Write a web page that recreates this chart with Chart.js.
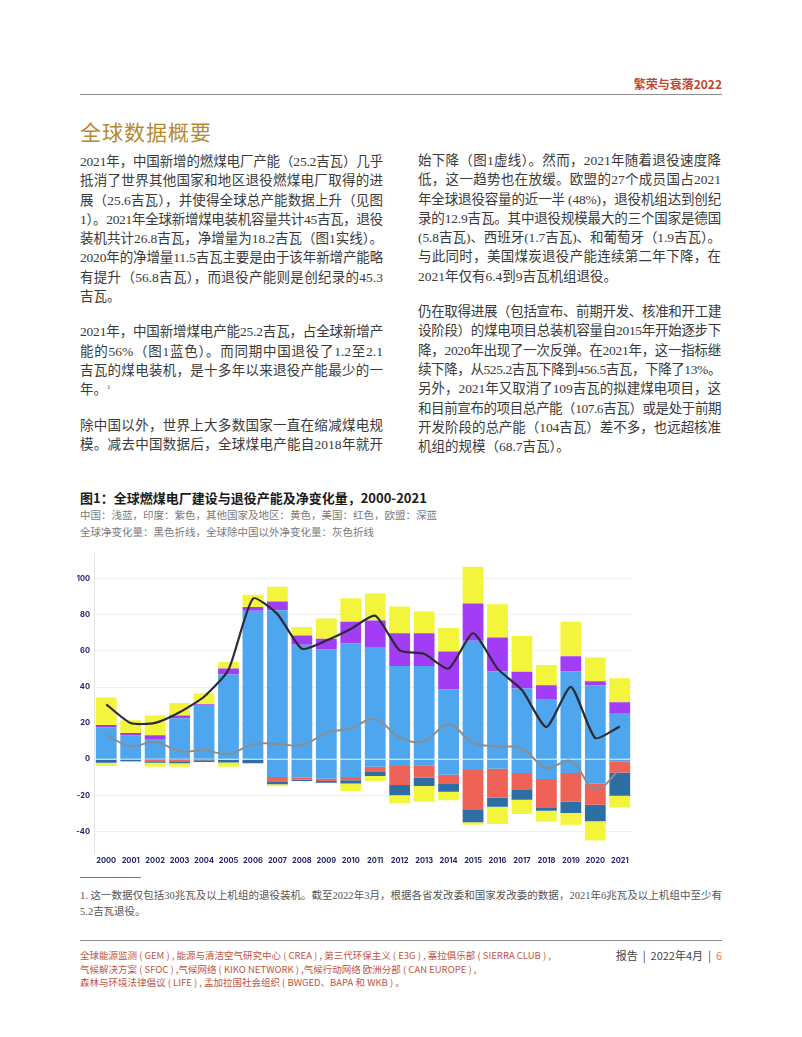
<!DOCTYPE html>
<html lang="zh-CN">
<head>
<meta charset="utf-8">
<title>繁荣与衰落2022 · 全球数据概要</title>
<script src="https://cdn.jsdelivr.net/npm/chart.js@4.4.1/dist/chart.umd.min.js"></script>
<style>
  html, body { margin: 0; padding: 0; background: #fff; }
  #page {
    position: relative; width: 802px; height: 1037px; overflow: hidden;
    font-family: "Liberation Serif", "Noto Sans CJK SC", serif; color: #3a3a3a;
  }
  .abs { position: absolute; }
  .rule { left: 80px; width: 642px; height: 0; border-top: 1.5px solid #8e8e8e; }
  #hdr { right: 80px; top: 77px; font: bold 12px/14px "Noto Sans CJK SC", sans-serif; color: #c2472f; }
  #title { left: 80px; top: 118px; font: 21px/26px "Noto Sans CJK SC", sans-serif; letter-spacing: 1px; color: #b5892f; }
  .col { width: 303px; font-size: 13.5px; line-height: 19.3px; }
  .col p { margin: 0 0 16px 0; }
  .ln { display: block; text-align: justify; text-align-last: justify; }
  .ln.last { text-align-last: left; }
  sup { font-size: 7px; line-height: 0; vertical-align: 5px; }
  #figTitle { left: 80px; top: 490px; font: bold 13px/16px "Noto Sans CJK SC", sans-serif; color: #1a1a1a; }
  .figSub { left: 80px; font-size: 10.5px; line-height: 16px; color: #7a7a7a; }
  #chartBox { left: 60px; top: 545px; width: 590px; height: 325px; }
  #fnote { left: 80px; top: 888px; width: 642px; font-size: 10.5px; line-height: 15.5px; color: #555; }
  #foot { left: 80px; top: 949px; font: 9.5px/13.7px "Noto Sans CJK SC", sans-serif; color: #c0553f; white-space: pre; }
  #footR { right: 80px; top: 948px; font: 11px/15px "Noto Sans CJK SC", sans-serif; color: #444; }
</style>
</head>
<body>
<div id="page">
  <div id="hdr" class="abs">繁荣与衰落2022</div>
  <div class="abs rule" style="top:94px"></div>
  <div id="title" class="abs">全球数据概要</div>

  <div class="abs col" style="left:80px; top:152px">
    <p>
      <span class="ln">2021年，中国新增的燃煤电厂产能（25.2吉瓦）几乎</span>
      <span class="ln">抵消了世界其他国家和地区退役燃煤电厂取得的进</span>
      <span class="ln">展（25.6吉瓦），并使得全球总产能数据上升（见图</span>
      <span class="ln">1）。2021年全球新增煤电装机容量共计45吉瓦，退役</span>
      <span class="ln">装机共计26.8吉瓦，净增量为18.2吉瓦（图1实线）。</span>
      <span class="ln">2020年的净增量11.5吉瓦主要是由于该年新增产能略</span>
      <span class="ln">有提升（56.8吉瓦），而退役产能则是创纪录的45.3</span>
      <span class="ln last">吉瓦。</span>
    </p>
    <p>
      <span class="ln">2021年，中国新增煤电产能25.2吉瓦，占全球新增产</span>
      <span class="ln">能的56%（图1蓝色）。而同期中国退役了1.2至2.1</span>
      <span class="ln">吉瓦的煤电装机，是十多年以来退役产能最少的一</span>
      <span class="ln last">年。<sup>1</sup></span>
    </p>
    <p>
      <span class="ln">除中国以外，世界上大多数国家一直在缩减煤电规</span>
      <span class="ln">模。减去中国数据后，全球煤电产能自2018年就开</span>
    </p>
  </div>

  <div class="abs col" style="left:418px; top:151px">
    <p>
      <span class="ln">始下降（图1虚线）。然而，2021年随着退役速度降</span>
      <span class="ln">低，这一趋势也在放缓。欧盟的27个成员国占2021</span>
      <span class="ln">年全球退役容量的近一半 (48%)，退役机组达到创纪</span>
      <span class="ln">录的12.9吉瓦。其中退役规模最大的三个国家是德国</span>
      <span class="ln">(5.8吉瓦)、西班牙(1.7吉瓦)、和葡萄牙（1.9吉瓦）。</span>
      <span class="ln">与此同时，美国煤炭退役产能连续第二年下降，在</span>
      <span class="ln last">2021年仅有6.4到9吉瓦机组退役。</span>
    </p>
    <p>
      <span class="ln">仍在取得进展（包括宣布、前期开发、核准和开工建</span>
      <span class="ln">设阶段）的煤电项目总装机容量自2015年开始逐步下</span>
      <span class="ln">降，2020年出现了一次反弹。在2021年，这一指标继</span>
      <span class="ln">续下降，从525.2吉瓦下降到456.5吉瓦，下降了13%。</span>
      <span class="ln">另外，2021年又取消了109吉瓦的拟建煤电项目，这</span>
      <span class="ln">和目前宣布的项目总产能（107.6吉瓦）或是处于前期</span>
      <span class="ln">开发阶段的总产能（104吉瓦）差不多，也远超核准</span>
      <span class="ln last">机组的规模（68.7吉瓦）。</span>
    </p>
  </div>

  <div id="figTitle" class="abs">图1：全球燃煤电厂建设与退役产能及净变化量，2000-2021</div>
  <div class="abs figSub" style="top:508px">中国：浅蓝，印度：紫色，其他国家及地区：黄色，美国：红色，欧盟：深蓝</div>
  <div class="abs figSub" style="top:525px">全球净变化量：黑色折线，全球除中国以外净变化量：灰色折线</div>

  <div id="chartBox" class="abs"><canvas id="coal-chart"></canvas></div>

  <div class="abs" style="left:80px; top:877px; width:61px; border-top:1px solid #777"></div>
  <div id="fnote" class="abs">
    <span class="ln">1. 这一数据仅包括30兆瓦及以上机组的退役装机。截至2022年3月，根据各省发改委和国家发改委的数据，2021年6兆瓦及以上机组中至少有</span>
    <span class="ln last">5.2吉瓦退役。</span>
  </div>

  <div class="abs rule" style="top:940px"></div>
  <div id="foot" class="abs">全球能源监测 ( GEM ) , 能源与清洁空气研究中心 ( CREA ) , 第三代环保主义 ( E3G ) , 塞拉俱乐部 ( SIERRA CLUB ) ,
气候解决方案 ( SFOC ) ,气候网络 ( KIKO NETWORK ) ,气候行动网络 欧洲分部 ( CAN EUROPE ) ,
森林与环境法律倡议 ( LIFE ) , 孟加拉国社会组织 ( BWGED、BAPA 和 WKB ) 。</div>
  <div id="footR" class="abs">报告 &nbsp;|&nbsp; 2022年4月 &nbsp;|&nbsp; <span style="color:#e57b5c">6</span></div>
</div>

<script>
// --- data (GW) ---
const years = ['2000', '2001', '2002', '2003', '2004', '2005', '2006', '2007', '2008', '2009', '2010',
               '2011', '2012', '2013', '2014', '2015', '2016', '2017', '2018', '2019', '2020', '2021'];

// new capacity (positive)
const chinaAdded = [17.6, 13.2, 10.8, 22.7, 30.0, 46.9, 82.2, 82.6, 63.4, 60.8, 64.1, 61.7, 51.6, 51.6, 38.6, 65.6, 48.7, 39.2, 33.3, 48.7, 41.0, 25.2];
const indiaAdded = [1.4, 1.3, 2.4, 1.5, 0.4, 3.3, 2.2, 4.8, 5.1, 5.9, 12.1, 15.1, 18.2, 18.2, 21.1, 20.7, 18.7, 9.3, 7.7, 8.4, 2.2, 6.3];
const otherAdded = [15.2, 7.1, 11.2, 6.9, 6.0, 3.6, 6.8, 8.2, 4.8, 11.3, 13.0, 15.0, 14.8, 12.1, 13.0, 20.3, 18.5, 19.8, 11.2, 19.1, 13.2, 13.4];

// retired capacity (negative)
const chinaRetired = [-0.4, -0.3, -0.2, -0.2, -0.2, -0.4, -0.5, -9.9, -10.3, -10.8, -9.9, -4.2, -3.8, -3.3, -8.6, -6.0, -5.3, -7.7, -11.0, -7.7, -13.6, -1.2];
const usRetired = [0, 0, -0.9, -0.9, -0.4, 0, 0, -2.7, -0.9, -1.3, -1.8, -2.9, -10.5, -7.0, -4.8, -21.7, -15.9, -9.0, -15.7, -15.9, -11.7, -6.3];
const euRetired = [-1.6, -0.8, -0.9, -1.1, -0.9, -1.4, -1.7, -1.3, -0.9, -0.9, -1.8, -2.2, -5.7, -4.5, -4.7, -7.3, -5.2, -5.8, -1.9, -6.2, -9.1, -12.8];
const otherRetired = [-1.8, -0.5, -2.2, -2.0, 0, -2.4, 0, -1.1, 0, 0, -4.1, -2.8, -4.4, -8.8, -4.6, -1.3, -9.5, -7.9, -6.0, -6.5, -10.7, -6.5];

// net change lines
const netGlobal = [30.4, 20.0, 20.1, 26.0, 34.6, 49.6, 89.0, 80.4, 61.2, 65.8, 72.2, 79.5, 60.3, 58.4, 50.2, 69.8, 50.2, 38.3, 17.8, 40.1, 11.7, 18.1];
const netExChina = [13.6, 7.1, 9.7, 4.4, 4.9, 2.9, 8.2, 8.6, 7.7, 14.5, 17.2, 22.2, 12.1, 9.9, 19.4, 9.0, 7.1, 5.9, -4.8, -1.1, -16.7, -5.7];

const yTicks = [-40, -20, 0, 20, 40, 60, 80, 100];

// --- colours ---
const LIGHT_BLUE = '#4da6ee';
const PURPLE = '#a33cf5';
const YELLOW = '#f3f53c';
const RED = '#ee6258';
const DARK_BLUE = '#2d6ea5';

// squeeze any justified text line that would wrap
document.querySelectorAll('.ln').forEach(el => {
  const lh = parseFloat(getComputedStyle(el).lineHeight);
  let ls = 0;
  while (el.getBoundingClientRect().height > lh * 1.5 && ls > -2) {
    ls -= 0.1;
    el.style.letterSpacing = ls + 'px';
  }
});

const tickFont = { family: 'Inter, Roboto, sans-serif', size: 7.5, weight: 'bold' };

function barSet(label, data, color) {
  return { type: 'bar', label, data, backgroundColor: color, borderWidth: 0, stack: 'coal', order: 2,
           barPercentage: 0.85, categoryPercentage: 1.0 };
}

new Chart(document.getElementById('coal-chart'), {
  data: {
    labels: years,
    datasets: [
      { type: 'line', label: '全球净变化量', data: netGlobal, borderColor: '#2b2b36', borderWidth: 2.2,
        pointRadius: 0, tension: 0.2, fill: false, stack: 'netAll', order: 0 },
      { type: 'line', label: '全球除中国以外净变化量', data: netExChina, borderColor: '#8d8d8d', borderWidth: 2,
        pointRadius: 0, tension: 0.4, fill: false, stack: 'netExChina', order: 1 },
      barSet('中国新增', chinaAdded, LIGHT_BLUE),
      barSet('印度新增', indiaAdded, PURPLE),
      barSet('其他新增', otherAdded, YELLOW),
      barSet('中国退役', chinaRetired, LIGHT_BLUE),
      barSet('美国退役', usRetired, RED),
      barSet('欧盟退役', euRetired, DARK_BLUE),
      barSet('其他退役', otherRetired, YELLOW)
    ]
  },
  options: {
    responsive: true,
    maintainAspectRatio: false,
    animation: false,
    layout: { padding: { top: 5, right: 18, left: 0, bottom: 0 } },
    plugins: { legend: { display: false }, tooltip: { enabled: false } },
    scales: {
      x: {
        stacked: true,
        grid: { display: false, drawTicks: false },
        border: { display: false },
        ticks: { color: '#24246e', font: tickFont, padding: 3, maxRotation: 0, autoSkip: false },
        afterFit: s => { s.height = 17; }
      },
      y: {
        stacked: true,
        min: -52,
        max: 114,
        afterBuildTicks: s => { s.ticks = yTicks.map(v => ({ value: v })); },
        afterFit: s => { s.width = 34; },
        grid: { color: '#efefef', lineWidth: 1, drawTicks: false },
        border: { display: true, color: '#e2e2e2' },
        ticks: { color: '#24246e', font: tickFont, padding: 4 }
      }
    }
  }
});
</script>
</body>
</html>
